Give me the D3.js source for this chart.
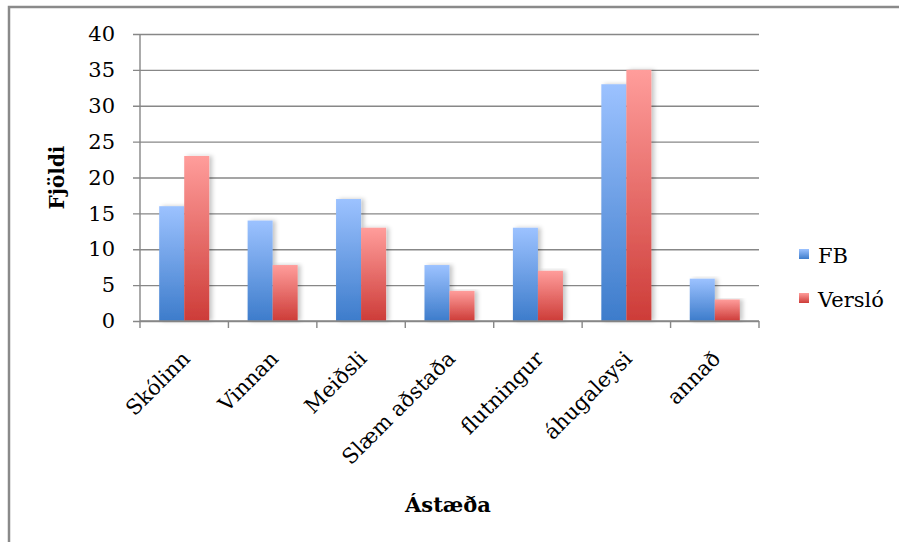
<!DOCTYPE html>
<html>
<head>
<meta charset="utf-8">
<script src="https://cdn.jsdelivr.net/npm/d3@7"></script>
<style>
  html, body { margin: 0; padding: 0; background: #fff; }
  svg { display: block; }
</style>
</head>
<body>
<svg id="chart" width="899" height="542"></svg>
<script>
// Reasons for dropping out, counts per school
const categories = ["Skólinn", "Vinnan", "Meiðsli", "Slæm aðstaða", "flutningur", "áhugaleysi", "annað"];
const seriesNames = ["FB", "Versló"];
const fbValues = [16, 14, 17, 7.8, 13, 33, 5.9];
const versloValues = [23, 7.8, 13, 4.2, 7, 35, 3];
const yTicks = [0, 5, 10, 15, 20, 25, 30, 35, 40];
const yTitle = "Fjöldi";
const xTitle = "Ástæða";

const FONT = "'DejaVu Serif', 'Liberation Serif', serif";

const rows = categories.map((c, i) => ({ category: c, FB: fbValues[i], "Versló": versloValues[i] }));

const svg = d3.select("#chart");
const W = 899, H = 542;
const plot = { left: 140, right: 759, top: 34, bottom: 321 };

svg.append("rect").attr("width", W).attr("height", H).attr("fill", "#fff");

// outer frame (top and left edges)
svg.append("path")
  .attr("d", `M9,${H} V7 H${W}`)
  .attr("fill", "none").attr("stroke", "#8a8a8a").attr("stroke-width", 2.5);

const defs = svg.append("defs");
const grads = {
  FB: ["#9cc2ff", "#3d7ccb"],
  "Versló": ["#ff9d9b", "#cd3c38"]
};
Object.entries(grads).forEach(([k, [top, bot]], i) => {
  const g = defs.append("linearGradient").attr("id", "grad" + i)
    .attr("x1", 0).attr("y1", 0).attr("x2", 0).attr("y2", 1);
  g.append("stop").attr("offset", "0%").attr("stop-color", top);
  g.append("stop").attr("offset", "100%").attr("stop-color", bot);
});
const shadow = defs.append("filter").attr("id", "shadow")
  .attr("x", "-20%").attr("y", "-5%").attr("width", "160%").attr("height", "110%");
shadow.append("feDropShadow").attr("dx", 3).attr("dy", 0).attr("stdDeviation", 2)
  .attr("flood-color", "#000").attr("flood-opacity", 0.22);

const y = d3.scaleLinear().domain([0, 40]).range([plot.bottom, plot.top]);
const x0 = d3.scaleBand().domain(categories).range([plot.left, plot.right])
  .paddingInner(0.434).paddingOuter(0.217);
const x1 = d3.scaleBand().domain(seriesNames).range([0, x0.bandwidth()]);
const color = d3.scaleOrdinal().domain(seriesNames).range(["url(#grad0)", "url(#grad1)"]);

// horizontal gridlines and y tick labels
const yAxis = d3.axisLeft(y).tickValues(yTicks).tickSize(-(plot.right - plot.left)).tickPadding(25);
const gy = svg.append("g").attr("transform", `translate(${plot.left},0)`).call(yAxis);
gy.select(".domain").remove();
gy.selectAll(".tick line").attr("stroke", "#878787").attr("stroke-width", 1.4).attr("x1", -7);
gy.selectAll(".tick text")
  .style("font-family", FONT).style("font-size", "21px").attr("fill", "#000");

// y axis line
svg.append("line").attr("x1", plot.left).attr("x2", plot.left)
  .attr("y1", plot.top).attr("y2", plot.bottom)
  .attr("stroke", "#878787").attr("stroke-width", 1.4);

// bars
const groups = svg.append("g").selectAll("g").data(rows).join("g")
  .attr("transform", d => `translate(${x0(d.category)},0)`);
groups.selectAll("rect")
  .data(d => seriesNames.map(k => ({ key: k, value: d[k] })))
  .join("rect")
  .attr("x", d => x1(d.key))
  .attr("width", x1.bandwidth())
  .attr("y", d => y(d.value))
  .attr("height", d => y(0) - y(d.value))
  .attr("fill", d => color(d.key))
  .attr("filter", "url(#shadow)");

// x axis with category boundary ticks
const xAxis = svg.append("g").attr("transform", `translate(0,${plot.bottom})`);
xAxis.append("line").attr("x1", plot.left).attr("x2", plot.right)
  .attr("stroke", "#878787").attr("stroke-width", 1.4);
const bounds = d3.range(categories.length + 1).map(i => plot.left + i * x0.step());
xAxis.selectAll(".b").data(bounds).join("line").attr("class", "b")
  .attr("x1", d => d).attr("x2", d => d).attr("y1", 0).attr("y2", 7)
  .attr("stroke", "#878787").attr("stroke-width", 1.4);
xAxis.selectAll(".lbl").data(categories).join("text").attr("class", "lbl")
  .attr("text-anchor", "end")
  .style("font-family", FONT).style("font-size", "21px")
  .attr("transform", d => `translate(${x0(d) + x0.bandwidth() / 2 + 7},${39}) rotate(-45)`)
  .text(d => d);

// axis titles
svg.append("text")
  .attr("transform", `translate(64,${(plot.top + plot.bottom) / 2}) rotate(-90)`)
  .attr("text-anchor", "middle")
  .style("font-family", FONT).style("font-size", "20px").style("font-weight", "bold")
  .text(yTitle);
svg.append("text")
  .attr("x", 448).attr("y", 512)
  .attr("text-anchor", "middle")
  .style("font-family", FONT).style("font-size", "21px").style("font-weight", "bold")
  .text(xTitle);

// legend
const legend = svg.append("g").attr("transform", "translate(799,249)");
const li = legend.selectAll("g").data(seriesNames).join("g")
  .attr("transform", (d, i) => `translate(0,${i * 44})`);
li.append("rect").attr("width", 10).attr("height", 10).attr("fill", d => color(d));
li.append("text").attr("x", 19).attr("y", 14)
  .style("font-family", FONT).style("font-size", "21px")
  .text(d => d);
</script>
</body>
</html>
